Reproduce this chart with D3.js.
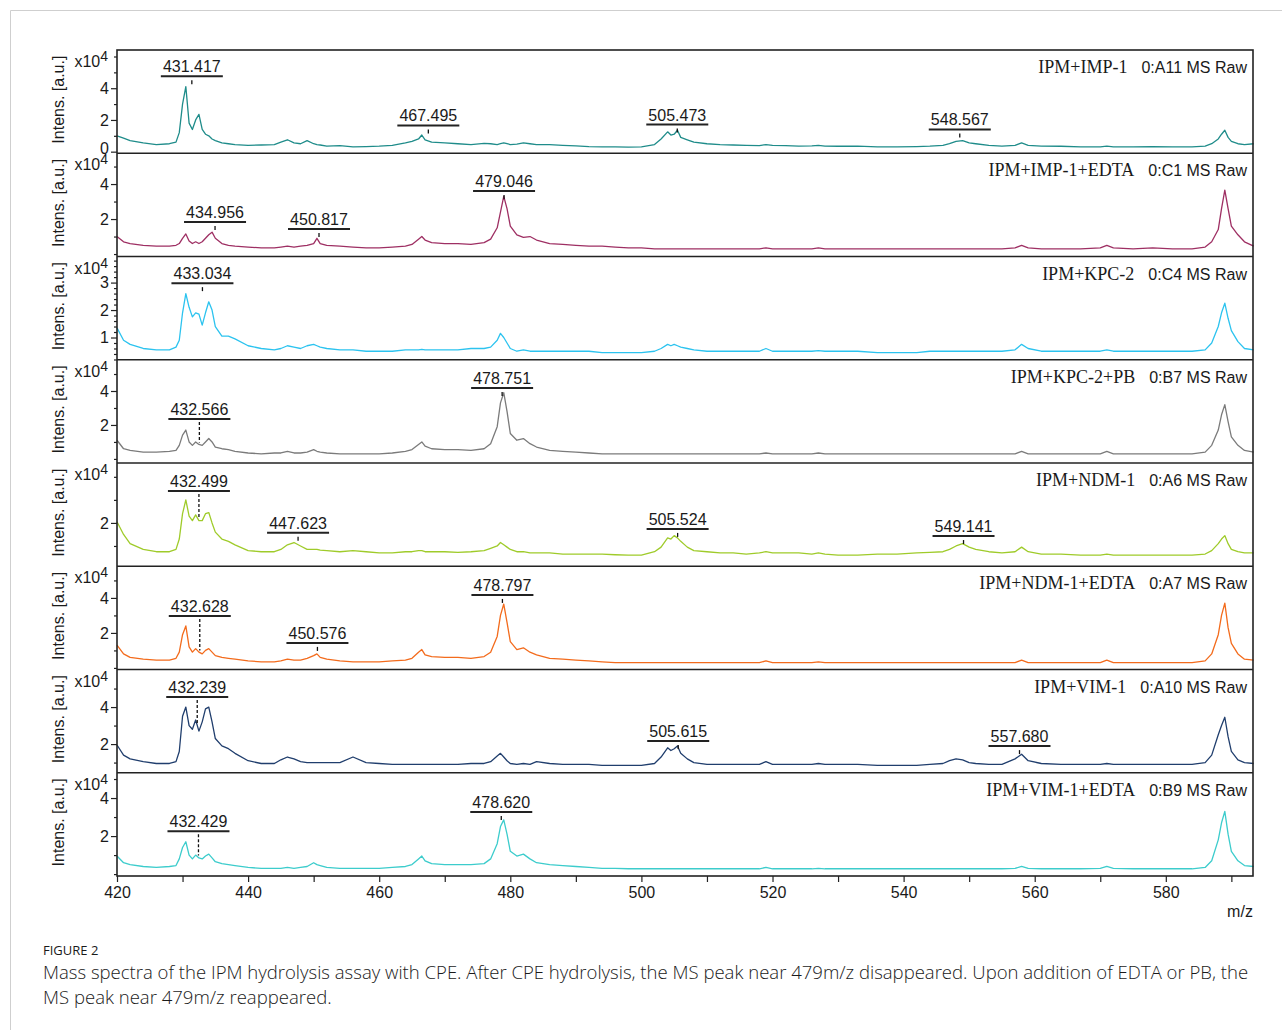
<!DOCTYPE html>
<meta charset="utf-8">
<head>
  <meta charset="UTF-8">
  <title>Figure 2 - MS spectra</title>
  <style>
    body { margin: 0; background: #fff; }
    text { font-family: "Liberation Sans", Arial, sans-serif; fill: #1a1a1a; }
  </style>
</head>
<body>
<script src="https://d3js.org/d3.v7.min.js"></script>
<script>

// m/z grid shared by every spectrum
var mz = [
  420, 421, 422, 424, 426, 428, 429, 429.5, 430, 430.5,
  431, 431.5, 432, 432.5, 433, 433.5, 434, 434.5, 435, 436,
  437, 438, 440, 442, 444, 445, 446, 447, 448, 449,
  450, 450.5, 451, 452, 454, 456, 458, 460, 462, 464,
  465, 466, 466.5, 467, 468, 470, 472, 474, 476, 477,
  478, 478.5, 479, 479.5, 480, 481, 482, 483, 484, 486,
  488, 490, 492, 494, 496, 498, 500, 502, 503, 504,
  504.5, 505, 505.5, 506, 507, 508, 510, 512, 514, 516,
  518, 519, 520, 522, 524, 526, 527, 528, 530, 533,
  536, 539, 542, 544, 546, 547, 548, 549, 550, 551,
  553, 555, 557, 558, 559, 561, 564, 567, 570, 571,
  572, 575, 578, 581, 584, 586, 587, 588, 588.5, 589,
  589.5, 590, 591, 592, 593.4
];

// intensities, x10^4 a.u.
var sImp1 = [
  1.0, 0.85, 0.7, 0.55, 0.45, 0.5, 0.6, 1.2, 3.0, 4.1,
  1.8, 1.4, 2.0, 2.35, 1.4, 1.1, 1.0, 0.8, 0.7, 0.55,
  0.5, 0.45, 0.4, 0.42, 0.45, 0.6, 0.75, 0.55, 0.5, 0.7,
  0.5, 0.45, 0.42, 0.35, 0.38, 0.3, 0.32, 0.35, 0.4, 0.55,
  0.65, 0.8, 1.05, 0.75, 0.6, 0.55, 0.5, 0.45, 0.52, 0.5,
  0.45, 0.5, 0.55, 0.5, 0.45, 0.48, 0.55, 0.5, 0.45, 0.45,
  0.4, 0.36, 0.32, 0.3, 0.3, 0.28, 0.3, 0.45, 0.8, 1.25,
  1.05, 1.1, 1.35, 0.9, 0.75, 0.6, 0.5, 0.45, 0.42, 0.4,
  0.38, 0.45, 0.4, 0.38, 0.35, 0.36, 0.4, 0.35, 0.34, 0.35,
  0.3, 0.3, 0.32, 0.35, 0.4, 0.5, 0.65, 0.7, 0.55, 0.5,
  0.4, 0.35, 0.4, 0.55, 0.4, 0.35, 0.34, 0.3, 0.3, 0.35,
  0.3, 0.3, 0.32, 0.3, 0.3, 0.35, 0.5, 0.8, 1.1, 1.35,
  0.9, 0.65, 0.5, 0.45, 0.5
];
var sImp1Edta = [
  1.0, 0.7, 0.6, 0.5, 0.45, 0.45, 0.5, 0.6, 0.9, 1.15,
  0.75, 0.6, 0.7, 0.6, 0.7, 0.9, 1.1, 1.25, 0.9, 0.6,
  0.5, 0.45, 0.4, 0.35, 0.35, 0.4, 0.45, 0.4, 0.45, 0.5,
  0.6, 0.9, 0.6, 0.5, 0.45, 0.4, 0.35, 0.35, 0.4, 0.45,
  0.55, 0.85, 1.0, 0.8, 0.65, 0.6, 0.6, 0.55, 0.65, 0.85,
  1.5, 2.4, 3.3, 2.6, 1.6, 1.1, 0.95, 1.0, 0.8, 0.6,
  0.55, 0.5, 0.45, 0.45, 0.4, 0.35, 0.35, 0.3, 0.3, 0.3,
  0.3, 0.3, 0.3, 0.3, 0.3, 0.3, 0.3, 0.3, 0.3, 0.3,
  0.3, 0.35, 0.3, 0.3, 0.3, 0.3, 0.35, 0.3, 0.3, 0.3,
  0.3, 0.3, 0.3, 0.3, 0.3, 0.3, 0.3, 0.3, 0.3, 0.3,
  0.3, 0.3, 0.35, 0.5, 0.35, 0.3, 0.3, 0.3, 0.35, 0.5,
  0.35, 0.3, 0.35, 0.3, 0.3, 0.4, 0.7, 1.4, 2.6, 3.65,
  2.6, 1.6, 1.1, 0.7, 0.45
];
var sKpc2 = [
  1.35, 0.9, 0.75, 0.6, 0.55, 0.55, 0.65, 0.9, 1.9, 2.6,
  2.1, 1.75, 1.9, 1.85, 1.45, 1.9, 2.3, 2.0, 1.4, 1.05,
  1.05, 0.95, 0.7, 0.6, 0.55, 0.6, 0.7, 0.65, 0.6, 0.7,
  0.75, 0.7, 0.65, 0.6, 0.55, 0.55, 0.5, 0.5, 0.5, 0.55,
  0.55, 0.55, 0.57, 0.55, 0.55, 0.55, 0.55, 0.6, 0.6, 0.65,
  0.9, 1.15, 1.0, 0.8, 0.6, 0.5, 0.55, 0.5, 0.5, 0.5,
  0.5, 0.5, 0.5, 0.45, 0.45, 0.45, 0.45, 0.5, 0.6, 0.75,
  0.7, 0.75, 0.7, 0.65, 0.6, 0.55, 0.5, 0.5, 0.5, 0.5,
  0.5, 0.6, 0.5, 0.5, 0.5, 0.5, 0.52, 0.5, 0.5, 0.5,
  0.45, 0.45, 0.45, 0.5, 0.5, 0.5, 0.5, 0.5, 0.5, 0.5,
  0.5, 0.5, 0.55, 0.75, 0.6, 0.5, 0.5, 0.5, 0.5, 0.55,
  0.5, 0.5, 0.5, 0.5, 0.5, 0.55, 0.8, 1.4, 1.9, 2.25,
  1.7, 1.25, 0.85, 0.6, 0.55
];
var sKpc2Pb = [
  1.1, 0.6, 0.5, 0.4, 0.4, 0.45, 0.5, 0.8, 1.4, 1.7,
  1.0, 0.8, 1.0, 0.85, 0.8, 1.0, 1.2, 1.0, 0.7, 0.6,
  0.55, 0.45, 0.35, 0.3, 0.35, 0.35, 0.45, 0.35, 0.35, 0.4,
  0.55, 0.45, 0.4, 0.35, 0.3, 0.3, 0.3, 0.3, 0.35, 0.45,
  0.55, 0.85, 1.0, 0.75, 0.6, 0.55, 0.55, 0.5, 0.6, 0.9,
  1.9, 3.3, 3.9, 2.8, 1.5, 1.1, 1.2, 0.9, 0.7, 0.5,
  0.45, 0.4, 0.35, 0.3, 0.3, 0.3, 0.3, 0.3, 0.3, 0.3,
  0.3, 0.3, 0.3, 0.3, 0.3, 0.3, 0.3, 0.3, 0.3, 0.3,
  0.3, 0.35, 0.3, 0.3, 0.3, 0.3, 0.35, 0.3, 0.3, 0.3,
  0.3, 0.3, 0.3, 0.3, 0.3, 0.3, 0.3, 0.3, 0.3, 0.3,
  0.3, 0.3, 0.3, 0.45, 0.3, 0.3, 0.3, 0.3, 0.3, 0.45,
  0.3, 0.3, 0.3, 0.3, 0.3, 0.4, 0.8, 1.7, 2.6, 3.2,
  2.2, 1.3, 0.8, 0.5, 0.4
];
var sNdm1 = [
  2.05, 1.5, 1.1, 0.85, 0.75, 0.75, 0.85, 1.3, 2.4, 3.0,
  2.3, 2.1, 2.35, 2.1, 2.1, 2.4, 2.45, 2.0, 1.6, 1.3,
  1.2, 1.05, 0.8, 0.75, 0.75, 0.85, 1.05, 1.15, 1.0, 0.85,
  0.85, 0.85, 0.82, 0.8, 0.75, 0.8, 0.75, 0.7, 0.7, 0.75,
  0.75, 0.8, 0.8, 0.75, 0.75, 0.75, 0.72, 0.75, 0.8, 0.9,
  1.0, 1.15, 1.05, 0.95, 0.85, 0.75, 0.75, 0.7, 0.7, 0.7,
  0.65, 0.65, 0.65, 0.65, 0.62, 0.6, 0.6, 0.75, 0.95, 1.35,
  1.3, 1.45, 1.35, 1.2, 0.95, 0.8, 0.75, 0.7, 0.7, 0.65,
  0.7, 0.75, 0.7, 0.7, 0.7, 0.65, 0.7, 0.65, 0.6, 0.6,
  0.65, 0.65, 0.7, 0.72, 0.75, 0.85, 1.0, 1.1, 0.95, 0.85,
  0.75, 0.7, 0.75, 0.95, 0.75, 0.65, 0.65, 0.6, 0.6, 0.65,
  0.6, 0.6, 0.6, 0.6, 0.6, 0.65, 0.8, 1.1, 1.3, 1.45,
  1.1, 0.85, 0.75, 0.7, 0.7
];
var sNdm1Edta = [
  1.3, 0.8, 0.6, 0.5, 0.45, 0.45, 0.55, 0.9, 1.9, 2.4,
  1.2, 0.9, 1.1, 0.9, 0.8, 1.0, 1.1, 0.9, 0.7, 0.6,
  0.55, 0.5, 0.4, 0.35, 0.35, 0.4, 0.5, 0.45, 0.45, 0.55,
  0.7, 0.8, 0.6, 0.5, 0.4, 0.35, 0.35, 0.35, 0.4, 0.45,
  0.55, 0.9, 1.05, 0.75, 0.65, 0.6, 0.6, 0.55, 0.65, 0.9,
  1.8, 3.0, 3.65, 2.6, 1.5, 1.05, 1.15, 0.9, 0.75, 0.55,
  0.5, 0.45, 0.4, 0.35, 0.3, 0.3, 0.3, 0.3, 0.3, 0.3,
  0.3, 0.3, 0.3, 0.3, 0.3, 0.3, 0.3, 0.3, 0.3, 0.3,
  0.3, 0.4, 0.3, 0.3, 0.3, 0.3, 0.35, 0.3, 0.3, 0.3,
  0.3, 0.3, 0.3, 0.3, 0.3, 0.3, 0.3, 0.3, 0.3, 0.3,
  0.3, 0.3, 0.3, 0.45, 0.3, 0.3, 0.3, 0.3, 0.3, 0.45,
  0.3, 0.3, 0.3, 0.3, 0.3, 0.4, 0.8, 1.9, 3.0, 3.7,
  2.3, 1.4, 0.8, 0.5, 0.45
];
var sVim1 = [
  1.95, 1.4, 1.2, 1.05, 0.95, 0.95, 1.05, 1.6, 3.5, 4.0,
  3.0, 2.8, 3.3, 2.7, 3.2, 3.9, 4.0, 3.2, 2.3, 1.9,
  1.75, 1.5, 1.1, 0.95, 0.95, 1.15, 1.3, 1.2, 1.05, 1.0,
  1.0, 1.0, 1.0, 1.0, 1.0, 1.3, 1.0, 0.95, 0.9, 0.9,
  0.9, 0.9, 0.9, 0.9, 0.9, 0.9, 0.9, 0.95, 0.95, 1.05,
  1.35, 1.5, 1.3, 1.1, 0.95, 0.9, 0.95, 0.9, 1.05, 0.95,
  0.9, 0.9, 0.9, 0.85, 0.85, 0.85, 0.85, 0.95, 1.3, 1.8,
  1.65, 1.75, 1.9, 1.5, 1.2, 1.0, 0.9, 0.9, 0.9, 0.9,
  0.9, 1.05, 0.9, 0.9, 0.9, 0.9, 0.95, 0.9, 0.9, 0.9,
  0.85, 0.85, 0.85, 0.9, 0.95, 1.1, 1.2, 1.15, 1.0, 0.95,
  0.9, 0.9, 1.2, 1.45, 1.1, 0.95, 0.9, 0.9, 0.9, 0.95,
  0.9, 0.9, 0.9, 0.9, 0.9, 1.0, 1.4, 2.5, 3.0, 3.45,
  2.4, 1.6, 1.15, 1.0, 0.95
];
var sVim1Edta = [
  0.95, 0.6, 0.5, 0.4, 0.35, 0.4, 0.45, 0.8, 1.4, 1.7,
  1.0, 0.8, 1.0, 0.85, 0.8, 0.95, 1.05, 0.85, 0.65, 0.55,
  0.5, 0.45, 0.35, 0.3, 0.3, 0.3, 0.35, 0.3, 0.35, 0.4,
  0.6, 0.5, 0.45, 0.35, 0.3, 0.3, 0.3, 0.3, 0.35, 0.4,
  0.5, 0.8, 0.95, 0.7, 0.55, 0.5, 0.5, 0.5, 0.55, 0.8,
  1.6, 2.5, 2.85, 2.1, 1.2, 0.95, 1.05, 0.8, 0.6, 0.5,
  0.45, 0.4, 0.35, 0.3, 0.3, 0.28, 0.28, 0.28, 0.28, 0.28,
  0.28, 0.28, 0.28, 0.28, 0.28, 0.28, 0.28, 0.28, 0.28, 0.28,
  0.28, 0.35, 0.28, 0.28, 0.28, 0.28, 0.3, 0.28, 0.28, 0.28,
  0.28, 0.28, 0.28, 0.28, 0.28, 0.28, 0.28, 0.28, 0.28, 0.28,
  0.28, 0.28, 0.3, 0.4, 0.3, 0.28, 0.28, 0.28, 0.3, 0.4,
  0.3, 0.28, 0.28, 0.28, 0.28, 0.35, 0.7, 1.8, 2.7, 3.3,
  2.1, 1.2, 0.7, 0.45, 0.4
];

var series = [sImp1, sImp1Edta, sKpc2, sKpc2Pb, sNdm1, sNdm1Edta, sVim1, sVim1Edta];
var names = ["IPM+IMP-1", "IPM+IMP-1+EDTA", "IPM+KPC-2", "IPM+KPC-2+PB",
             "IPM+NDM-1", "IPM+NDM-1+EDTA", "IPM+VIM-1", "IPM+VIM-1+EDTA"];
var spots = ["0:A11", "0:C1", "0:C4", "0:B7", "0:A6", "0:A7", "0:A10", "0:B9"];
var colors = ["#1f8c8a", "#9e2f63", "#2cc3ef", "#7b7b7b", "#9fcb2a", "#f36b1c", "#203e6d", "#3ccccc"];

// y range of each panel and its labelled ticks
var yDomains = [[-0.1, 6.41], [-0.14, 5.76], [0.19, 3.95], [-0.24, 5.84],
                [0.12, 4.6], [-0.09, 5.81], [0.45, 6.03], [-0.1, 5.33]];
var yLabels = [[0, 2, 4], [2, 4], [1, 2, 3], [2, 4], [2], [2, 4], [2, 4], [2, 4]];
var yMinor = [1, 1, 0.2, 1, 1, 1, 1, 1];

// annotated peaks: label, height of the label bar, dashed marker or not
var peakLabels = [
  ["431.417", "467.495", "505.473", "548.567"],
  ["434.956", "450.817", "479.046"],
  ["433.034"],
  ["432.566", "478.751"],
  ["432.499", "447.623", "505.524", "549.141"],
  ["432.628", "450.576", "478.797"],
  ["432.239", "505.615", "557.680"],
  ["432.429", "478.620"]
];
var peakLevels = [
  [4.76, 1.65, 1.71, 1.4],
  [1.83, 1.43, 3.6],
  [2.98],
  [2.35, 4.18],
  [3.39, 1.57, 1.74, 1.43],
  [2.97, 1.43, 4.17],
  [4.54, 2.16, 1.89],
  [2.26, 3.26]
];
var peakDashed = [[0, 0, 0, 0], [0, 0, 0], [0], [1, 0], [1, 0, 0, 0], [1, 0, 0], [1, 0, 0], [1, 0]];

var xTicks = [420, 440, 460, 480, 500, 520, 540, 560, 580];
var xMinor = [430, 450, 470, 490, 510, 530, 550, 570, 590];

var W = 1282, H = 1030;
var pLeft = 117, pRight = 1253, pTop = 50, pBottom = 876;
var ph = (pBottom - pTop) / 8;

var svg = d3.select("body").append("svg")
    .attr("width", W)
    .attr("height", H);

// figure frame
svg.append("path")
    .attr("d", "M10.5," + H + "V10.5H" + W)
    .attr("fill", "none")
    .attr("stroke", "#cfcfcf")
    .attr("stroke-width", 1);

var x = d3.scaleLinear().domain([420, 593.3]).range([pLeft, pRight]);

function valueAt(vals, m) {
  var k = d3.bisectLeft(mz, m);
  if (k <= 0) return vals[0];
  var t = (m - mz[k - 1]) / (mz[k] - mz[k - 1]);
  return vals[k - 1] + t * (vals[k] - vals[k - 1]);
}

series.forEach(function(vals, i) {
  var y0 = pTop + i * ph;
  var y = d3.scaleLinear().domain(yDomains[i]).range([y0 + ph, y0]);
  var g = svg.append("g");

  var pts = mz.map(function(m, k) { return [m, vals[k]]; });
  g.append("path")
      .datum(pts)
      .attr("fill", "none")
      .attr("stroke", colors[i])
      .attr("stroke-width", 1.3)
      .attr("stroke-linejoin", "round")
      .attr("d", d3.line()
        .x(function(d) { return x(d[0]); })
        .y(function(d) { return y(d[1]); }));

  // y axis, minor then labelled ticks
  var dom = yDomains[i], step = yMinor[i];
  var minors = d3.range(Math.ceil(dom[0] / step - 1e-6) * step, dom[1], step)
    .map(function(v) { return Math.round(v * 100) / 100; })
    .filter(function(v) { return yLabels[i].indexOf(v) < 0 && y(v) > y0 + 3; });

  var ax = g.append("g").attr("transform", "translate(" + pLeft + ",0)");
  ax.call(d3.axisLeft(y).tickValues(minors).tickSize(3).tickFormat(""));
  ax.append("g").call(d3.axisLeft(y).tickValues(yLabels[i]).tickSize(6).tickFormat(d3.format("d")));
  ax.selectAll(".domain").remove();
  ax.selectAll("line").attr("stroke", "#222").attr("stroke-width", 1.2);
  ax.selectAll("text")
      .style("font-family", "'Liberation Sans', Arial, sans-serif")
      .style("font-size", "16px")
      .attr("fill", "#1a1a1a")
      .attr("x", -8);
  if (i === 0) ax.selectAll("text").filter(function(d) { return d === 0; }).attr("dy", "0.1em");

  // x10^4 scale marker
  var sc = g.append("text")
      .attr("x", pLeft - 9)
      .attr("y", y0 + 17)
      .attr("text-anchor", "end")
      .style("font-size", "16px");
  sc.append("tspan").text("x10");
  sc.append("tspan").attr("dy", -6).style("font-size", "14px").text("4");

  // y title
  g.append("text")
      .attr("transform", "translate(64," + (y0 + ph / 2 - 2) + ")rotate(-90)")
      .attr("text-anchor", "middle")
      .style("font-size", "16px")
      .text("Intens. [a.u.]");

  // sample + spot labels, top right
  var raw = g.append("text")
      .attr("x", pRight - 6)
      .attr("y", y0 + 23)
      .attr("text-anchor", "end")
      .style("font-size", "16px")
      .text(spots[i] + " MS Raw");
  var rw = raw.node().getComputedTextLength();
  g.append("text")
      .attr("x", pRight - 6 - rw - 14)
      .attr("y", y0 + 23)
      .attr("text-anchor", "end")
      .style("font-family", "'Liberation Serif', 'Times New Roman', serif")
      .style("font-size", "18px")
      .text(names[i]);

  // peak annotations
  peakLabels[i].forEach(function(lab, j) {
    var m = +lab;
    var px = x(m), ly = y(peakLevels[i][j]);
    g.append("text")
        .attr("x", px)
        .attr("y", ly - 4)
        .attr("text-anchor", "middle")
        .style("font-size", "16px")
        .text(lab);
    g.append("line")
        .attr("x1", px - 31).attr("x2", px + 31)
        .attr("y1", ly).attr("y2", ly)
        .attr("stroke", "#222")
        .attr("stroke-width", 2);
    if (peakDashed[i][j]) {
      g.append("line")
          .attr("x1", px).attr("x2", px)
          .attr("y1", ly + 3).attr("y2", y(valueAt(vals, m)) - 2)
          .attr("stroke", "#111")
          .attr("stroke-width", 1.3)
          .attr("stroke-dasharray", "3,2");
    } else {
      g.append("line")
          .attr("x1", px).attr("x2", px)
          .attr("y1", ly + 4).attr("y2", ly + 8)
          .attr("stroke", "#111")
          .attr("stroke-width", 1.3);
    }
  });
});

// panel frames
svg.append("rect")
    .attr("x", pLeft).attr("y", pTop)
    .attr("width", pRight - pLeft).attr("height", pBottom - pTop)
    .attr("fill", "none")
    .attr("stroke", "#222")
    .attr("stroke-width", 1.6);
d3.range(1, 8).forEach(function(i) {
  svg.append("line")
      .attr("x1", pLeft).attr("x2", pRight)
      .attr("y1", pTop + i * ph).attr("y2", pTop + i * ph)
      .attr("stroke", "#222")
      .attr("stroke-width", 1.6);
});

// x axis
var xa = svg.append("g").attr("transform", "translate(0," + pBottom + ")");
xa.call(d3.axisBottom(x).tickValues(xMinor).tickSize(6).tickFormat(""));
xa.append("g").call(d3.axisBottom(x).tickValues(xTicks).tickSize(6).tickFormat(d3.format("d")));
xa.selectAll(".domain").remove();
xa.selectAll("line").attr("stroke", "#222").attr("stroke-width", 1.2);
xa.selectAll("text")
    .style("font-family", "'Liberation Sans', Arial, sans-serif")
    .style("font-size", "16px")
    .attr("fill", "#1a1a1a")
    .attr("y", 11);

svg.append("text")
    .attr("x", 1240)
    .attr("y", 917)
    .attr("text-anchor", "middle")
    .style("font-size", "16px")
    .text("m/z");

// caption
svg.append("text")
    .attr("x", 43)
    .attr("y", 955)
    .style("font-family", "'Open Sans', 'Noto Sans', sans-serif")
    .style("font-size", "13px")
    .attr("fill", "#555")
    .text("FIGURE 2");

var capLines = [
  "Mass spectra of the IPM hydrolysis assay with CPE. After CPE hydrolysis, the MS peak near 479m/z disappeared. Upon addition of EDTA or PB, the",
  "MS peak near 479m/z reappeared."
];
var cap = capLines.map(function(s, k) {
  return svg.append("text")
      .attr("x", 43)
      .attr("y", 979 + k * 25)
      .style("font-family", "'Open Sans', 'Noto Sans', sans-serif")
      .style("font-size", "16px")
      .style("font-weight", 300)
      .attr("fill", "#6a6a6a")
      .text(s);
});
// fit the first caption line to its width in the figure
var cw = cap[0].node().getComputedTextLength();
var fs = 16 * 1206 / cw;
cap.forEach(function(t) { t.style("font-size", fs + "px"); });

</script>
</body>
